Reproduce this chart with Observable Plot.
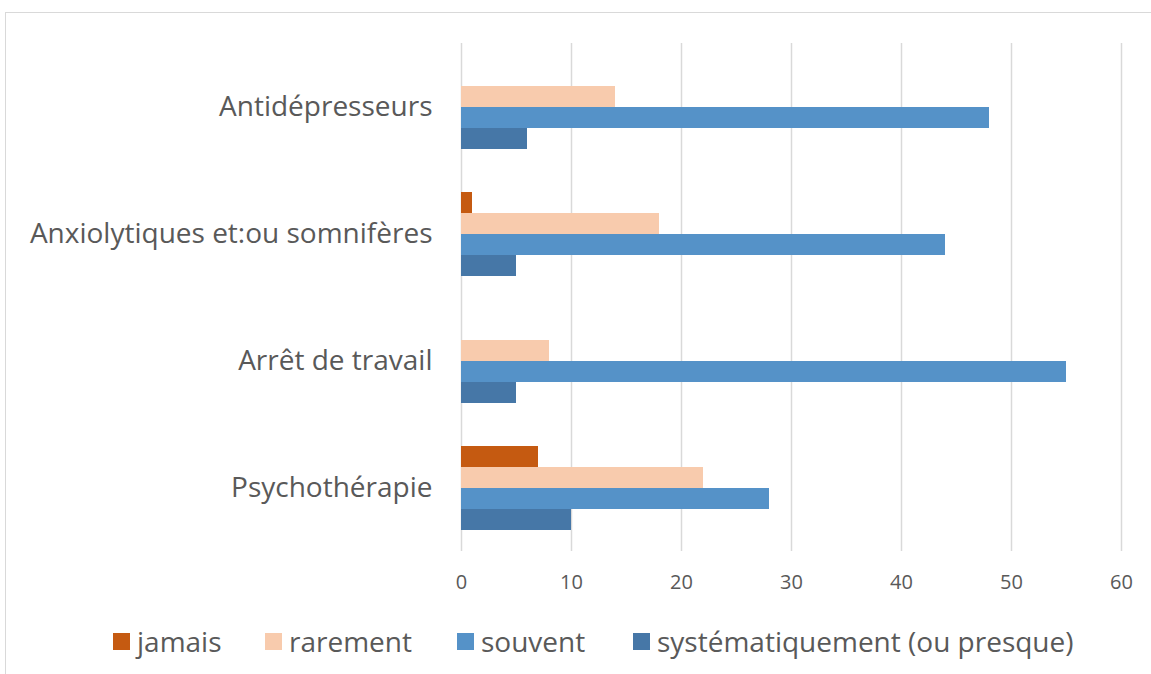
<!DOCTYPE html>
<html><head><meta charset="utf-8">
<script src="https://cdn.jsdelivr.net/npm/d3@7"></script>
<script src="https://cdn.jsdelivr.net/npm/@observablehq/plot@0.6"></script>
<style>
body{margin:0;background:#fff;font-family:"Open Sans",sans-serif;}
#wrap{position:relative;width:1151px;height:674px;overflow:hidden;}
#frame{position:absolute;left:5px;top:12px;width:1200px;height:700px;border-top:1.5px solid #d9d9d9;border-left:1.5px solid #d9d9d9;box-sizing:border-box;}
#chart{position:absolute;left:0;top:0;}
#legend{position:absolute;top:622px;left:0;width:1151px;height:38px;}
.item{position:absolute;top:0;display:flex;align-items:center;height:38px;font-size:28px;color:#595959;white-space:nowrap;}
.sw{width:17px;height:17px;margin-right:7px;}
</style></head>
<body><div id="wrap"><div id="frame"></div><div id="chart"></div><div id="legend"></div></div>
<script>
const categories = ["Antidépresseurs", "Anxiolytiques et:ou somnifères", "Arrêt de travail", "Psychothérapie"];
const series = ["jamais", "rarement", "souvent", "systématiquement (ou presque)"];
const jamais = [0, 1, 0, 7];
const rarement = [14, 18, 8, 22];
const souvent = [48, 44, 55, 28];
const systematiquement = [6, 5, 5, 10];
const colors = ["#C55A11", "#F8CBAD", "#5592C8", "#4677A7"];
const xTicks = [0, 10, 20, 30, 40, 50, 60];

const cols = [jamais, rarement, souvent, systematiquement];
const data = [];
categories.forEach((c, i) => series.forEach((s, j) => data.push({category: c, series: s, value: cols[j][i]})));

const plot = Plot.plot({
  width: 1151,
  height: 600,
  marginTop: 42,
  marginBottom: 48,
  marginLeft: 461,
  marginRight: 30,
  style: {fontFamily: "'Open Sans', sans-serif", color: "#595959", background: "transparent"},
  x: {domain: [0, 60], label: null},
  y: {domain: series, axis: null, paddingInner: 0, paddingOuter: 0.9},
  fy: {domain: categories, label: null, padding: 0, axis: null},
  color: {domain: series, range: colors},
  marks: [
    Plot.gridX({ticks: xTicks, stroke: "#d9d9d9", strokeOpacity: 1, strokeWidth: 1.5}),
    Plot.barX(data, {x: "value", y: "series", fy: "category", fill: "series"}),
    Plot.axisX({ticks: xTicks, tickSize: 0, tickPadding: 23, fontSize: 20, fill: "#595959", label: null, tickFormat: d => d}),
    Plot.axisFy({anchor: "left", tickSize: 0, tickPadding: 29, fontSize: 28, fill: "#595959", label: null})
  ]
});
document.getElementById("chart").appendChild(plot);

const legendX = [113, 265, 457, 633];
const lg = document.getElementById("legend");
series.forEach((s, i) => {
  const d = document.createElement("div");
  d.className = "item";
  d.style.left = legendX[i] + "px";
  const sw = document.createElement("div");
  sw.className = "sw";
  sw.style.background = colors[i];
  d.appendChild(sw);
  d.appendChild(document.createTextNode(s));
  lg.appendChild(d);
});
</script></body></html>
